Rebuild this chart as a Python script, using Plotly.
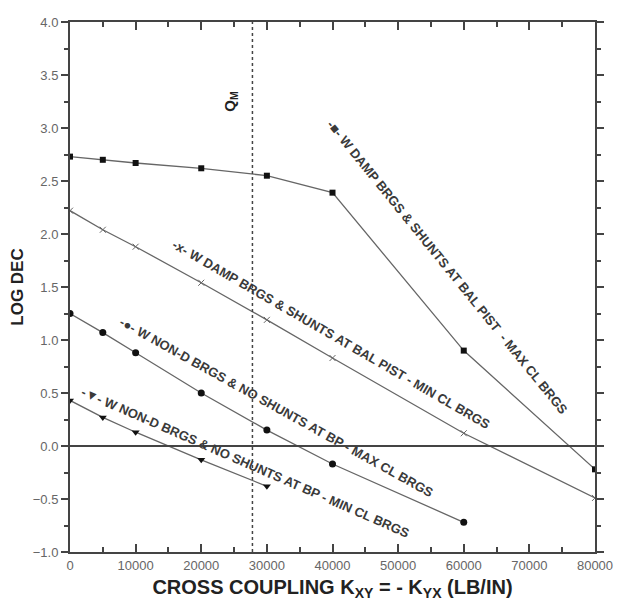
import plotly.graph_objects as go

# Data
x_max_damp = [0, 5000, 10000, 20000, 30000, 40000, 60000, 80000]
y_max_damp = [2.73, 2.70, 2.67, 2.62, 2.55, 2.39, 0.90, -0.22]

x_min_damp = [0, 5000, 10000, 20000, 30000, 40000, 60000, 80000]
y_min_damp = [2.22, 2.04, 1.88, 1.54, 1.19, 0.83, 0.12, -0.49]

x_max_nond = [0, 5000, 10000, 20000, 30000, 40000, 60000]
y_max_nond = [1.25, 1.07, 0.88, 0.50, 0.15, -0.17, -0.72]

x_min_nond = [0, 5000, 10000, 20000, 30000]
y_min_nond = [0.43, 0.27, 0.13, -0.13, -0.38]

qm_x = 27800

labels = [
    "-■- W DAMP BRGS & SHUNTS AT BAL PIST  - MAX CL BRGS",
    "-x- W DAMP BRGS & SHUNTS AT BAL PIST - MIN CL BRGS",
    "-●- W NON-D BRGS & NO SHUNTS AT BP - MAX CL BRGS",
    "-▼- W NON-D BRGS & NO SHUNTS AT BP - MIN CL BRGS",
]
label_x = [57500, 39800, 31500, 26700]
label_y = [1.68, 1.05, 0.36, -0.16]
label_angle = [51, 30, 29, 23.6]

FONT = "Liberation Sans, Arial"
line_col = "#666666"
fig = go.Figure()

fig.add_trace(go.Scatter(x=x_max_damp, y=y_max_damp, mode="lines+markers",
                         line=dict(color=line_col, width=1.3),
                         marker=dict(symbol="square", size=6, color="#111"),
                         showlegend=False))
fig.add_trace(go.Scatter(x=x_min_damp, y=y_min_damp, mode="lines+markers",
                         line=dict(color=line_col, width=1.3),
                         marker=dict(symbol="x-thin", size=6, color="#666",
                                     line=dict(color="#666", width=1)),
                         showlegend=False))
fig.add_trace(go.Scatter(x=x_max_nond, y=y_max_nond, mode="lines+markers",
                         line=dict(color=line_col, width=1.3),
                         marker=dict(symbol="circle", size=7, color="#111"),
                         showlegend=False))
fig.add_trace(go.Scatter(x=x_min_nond, y=y_min_nond, mode="lines+markers",
                         line=dict(color=line_col, width=1.3),
                         marker=dict(symbol="triangle-down", size=7, color="#111"),
                         showlegend=False))

# zero line and QM line
fig.add_shape(type="line", x0=0, x1=80000, y0=0, y1=0,
              line=dict(color="#444", width=2))
fig.add_shape(type="line", x0=qm_x, x1=qm_x, y0=-1, y1=4,
              line=dict(color="#444", width=1.5, dash="dot"))

for t, lx, ly, ang in zip(labels, label_x, label_y, label_angle):
    fig.add_annotation(x=lx, y=ly, text="<b>" + t + "</b>", textangle=ang,
                       showarrow=False, xanchor="center", yanchor="middle",
                       font=dict(family=FONT, size=13, color="#3a3a3a"))

fig.add_annotation(x=24400, y=3.25, text="<b>Q<sub>M</sub></b>", textangle=-90,
                   showarrow=False, font=dict(family=FONT, size=15, color="#222"))

fig.update_xaxes(range=[0, 80000], dtick=10000, tick0=0, tickformat="d",
                 showline=True, linecolor="#444", linewidth=2, mirror="allticks",
                 ticks="inside", ticklen=8, tickwidth=2, tickcolor="#444",
                 showgrid=False, zeroline=False, ticklabeloverflow="allow",
                 tickfont=dict(family=FONT, size=13, color="#666"),
                 minor=dict(dtick=5000, ticks="inside", ticklen=5, tickwidth=1.5,
                            tickcolor="#444", showgrid=False),
                 title=dict(text="<b>CROSS COUPLING K<sub>XY</sub> = - K<sub>YX</sub> (LB/IN)</b>",
                            font=dict(family=FONT, size=20, color="#222"),
                            standoff=8))
fig.update_yaxes(range=[-1, 4], dtick=0.5, tick0=0, tickformat=".1f",
                 showline=True, linecolor="#444", linewidth=2, mirror="allticks",
                 ticks="outside", ticklen=7, tickwidth=2, tickcolor="#444",
                 showgrid=False, zeroline=False,
                 tickfont=dict(family=FONT, size=13, color="#666"),
                 minor=dict(dtick=0.25, ticks="outside", ticklen=4, tickwidth=1.5,
                            tickcolor="#444", showgrid=False),
                 title=dict(text="<b>LOG DEC</b>",
                            font=dict(family=FONT, size=17, color="#222"),
                            standoff=6))

fig.update_layout(width=612, height=600, plot_bgcolor="white", paper_bgcolor="white",
                  margin=dict(l=62, r=16, t=7, b=56))

fig.write_html("out.html")
